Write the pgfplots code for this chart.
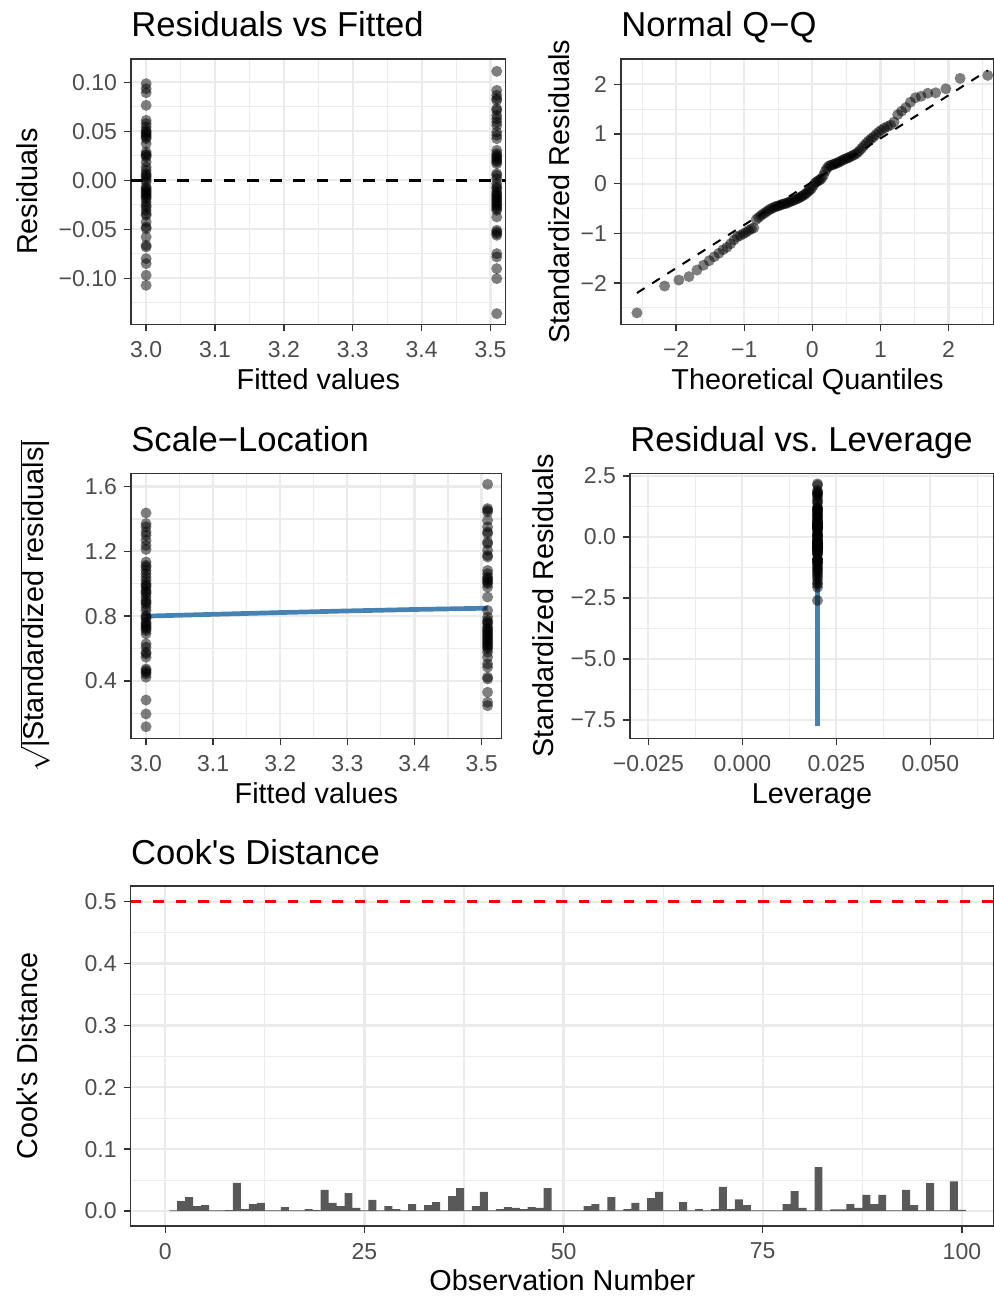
\documentclass[border=0pt]{standalone}
\usepackage{pgfplots}
\pgfplotsset{compat=1.18}
\usepackage{fontspec}
\setmainfont{Liberation Sans}
\definecolor{gray20}{HTML}{333333}
\definecolor{gray30}{HTML}{4D4D4D}
\definecolor{gray92}{HTML}{EBEBEB}
\definecolor{gray35}{HTML}{595959}
\definecolor{steelblue}{HTML}{4682B4}
\newcommand{\titlefont}{\fontsize{17.3}{20}\selectfont}
\newcommand{\labfont}{\fontsize{14.4}{17}\selectfont}
\newcommand{\tickfont}{\fontsize{11.5}{13}\selectfont}
\pgfplotsset{ggbw/.style={
  scale only axis, anchor=south west,
  axis line style={gray20, line width=0.7pt},
  tick align=outside, tick pos=left,
  major tick length=3.5pt, minor tick length=0pt,
  tick style={gray20, line width=0.7pt},
  grid=both,
  major grid style={gray92, line width=1.1pt},
  minor grid style={gray92, line width=0.55pt},
  ticklabel style={font=\tickfont, text=gray30},
  xticklabel style={yshift=-1.5pt},
  scaled ticks=false,
  every axis title/.style={anchor=base west, font=\titlefont, inner sep=0pt, at={([yshift=11pt]axis description cs:0,1)}},
  every axis x label/.style={anchor=base, font=\labfont, inner sep=0pt, at={([yshift=-32.5pt]axis description cs:0.5,0)}},
  every axis y label/.style={rotate=90, anchor=base, font=\labfont, inner sep=0pt},
},
pts/.style={only marks, mark=*, mark size=2.75pt, draw opacity=0, fill=black, fill opacity=0.5,
  mark options={draw opacity=0, draw=none, fill=black, fill opacity=0.5}}}
\begin{document}
\begin{tikzpicture}
\useasboundingbox (0,0) rectangle (497pt,648pt);
% ---------- Residuals vs Fitted
\begin{axis}[ggbw, at={(65.5pt,485.85pt)}, width=187.35pt, height=132.65pt,
 xmin=2.978, xmax=3.522, ymin=-0.1469, ymax=0.1238,
 xtick={3.0,3.1,3.2,3.3,3.4,3.5}, xticklabels={3.0,3.1,3.2,3.3,3.4,3.5},
 minor xtick={3.05,3.15,3.25,3.35,3.45},
 ytick={-0.1,-0.05,0,0.05,0.1}, yticklabels={−0.10,−0.05,0.00,0.05,0.10},
 minor ytick={-0.125,-0.075,-0.025,0.025,0.075},
 title={Residuals vs Fitted}, xlabel={Fitted values}, ylabel={Residuals},
 ylabel style={at={([xshift=-46.5pt]axis description cs:0,0.5)}}]
\addplot[pts] coordinates {
(3.0,0.0986)(3.0,0.0935)(3.0,0.0894)(3.0,0.0765)(3.0,0.0612)(3.0,0.0578)(3.0,0.0544)(3.0,0.0510)(3.0,0.0493)(3.0,0.0476)
(3.0,0.0459)(3.0,0.0442)(3.0,0.0425)(3.0,0.0374)(3.0,0.0289)(3.0,0.0265)(3.0,0.0255)(3.0,0.0238)(3.0,0.0187)(3.0,0.0136)
(3.0,0.0102)(3.0,0.0068)(3.0,0.0051)(3.0,0.0034)(3.0,0.0010)(3.0,-0.0017)(3.0,-0.0068)(3.0,-0.0085)(3.0,-0.0102)(3.0,-0.0119)
(3.0,-0.0136)(3.0,-0.0153)(3.0,-0.0170)(3.0,-0.0187)(3.0,-0.0221)(3.0,-0.0255)(3.0,-0.0272)(3.0,-0.0306)(3.0,-0.0340)(3.0,-0.0357)
(3.0,-0.0425)(3.0,-0.0476)(3.0,-0.0493)(3.0,-0.0578)(3.0,-0.0663)(3.0,-0.0680)(3.0,-0.0799)(3.0,-0.0850)(3.0,-0.0969)(3.0,-0.1071)
(3.509,0.1112)(3.509,0.0918)(3.509,0.0867)(3.509,0.0833)(3.509,0.0816)(3.509,0.0731)(3.509,0.0714)(3.509,0.0663)(3.509,0.0629)(3.509,0.0595)
(3.509,0.0561)(3.509,0.0493)(3.509,0.0459)(3.509,0.0425)(3.509,0.0306)(3.509,0.0272)(3.509,0.0255)(3.509,0.0238)(3.509,0.0221)(3.509,0.0204)
(3.509,0.0187)(3.509,0.0170)(3.509,0.0068)(3.509,0.0051)(3.509,0.0017)(3.509,-0.0034)(3.509,-0.0068)(3.509,-0.0085)(3.509,-0.0119)(3.509,-0.0136)
(3.509,-0.0153)(3.509,-0.0170)(3.509,-0.0187)(3.509,-0.0204)(3.509,-0.0221)(3.509,-0.0238)(3.509,-0.0255)(3.509,-0.0272)(3.509,-0.0289)(3.509,-0.0306)
(3.509,-0.0374)(3.509,-0.0510)(3.509,-0.0527)(3.509,-0.0544)(3.509,-0.0561)(3.509,-0.0748)(3.509,-0.0782)(3.509,-0.0901)(3.509,-0.1003)(3.509,-0.1360)};
\addplot[black, line width=1.3pt, dash pattern=on 5.8pt off 5.8pt] coordinates {(2.978,0) (3.522,0)};
\end{axis}
% ---------- Normal Q-Q
\begin{axis}[ggbw, at={(310.5pt,485.85pt)}, width=186.5pt, height=132.65pt,
 xmin=-2.81, xmax=2.668, ymin=-2.83, ymax=2.51,
 xtick={-2,-1,0,1,2}, xticklabels={−2,−1,0,1,2},
 minor xtick={-2.5,-1.5,-0.5,0.5,1.5,2.5},
 ytick={-2,-1,0,1,2}, yticklabels={−2,−1,0,1,2},
 minor ytick={-2.5,-1.5,-0.5,0.5,1.5,2.5},
 title={Normal Q−Q}, xlabel={Theoretical Quantiles}, ylabel={Standardized Residuals},
 ylabel style={at={([xshift=-26pt]axis description cs:0,0.5)}}]
\addplot[pts] coordinates {
(-2.576,-2.60)(-2.170,-2.06)(-1.960,-1.94)(-1.812,-1.87)(-1.695,-1.74)(-1.598,-1.64)(-1.514,-1.55)(-1.440,-1.47)(-1.372,-1.40)(-1.311,-1.33)
(-1.254,-1.28)(-1.200,-1.21)(-1.150,-1.13)(-1.103,-1.07)(-1.058,-1.04)(-1.015,-1.01)(-0.974,-0.98)(-0.935,-0.94)(-0.896,-0.91)(-0.860,-0.89)
(-0.824,-0.72)(-0.789,-0.68)(-0.755,-0.64)(-0.723,-0.61)(-0.690,-0.58)(-0.659,-0.55)(-0.628,-0.52)(-0.598,-0.50)(-0.568,-0.48)(-0.539,-0.46)
(-0.510,-0.45)(-0.482,-0.44)(-0.454,-0.42)(-0.426,-0.41)(-0.399,-0.40)(-0.372,-0.39)(-0.345,-0.37)(-0.319,-0.36)(-0.292,-0.34)(-0.266,-0.33)
(-0.240,-0.31)(-0.215,-0.30)(-0.189,-0.28)(-0.164,-0.26)(-0.138,-0.24)(-0.113,-0.22)(-0.088,-0.19)(-0.063,-0.16)(-0.038,-0.13)(-0.013,-0.10)
(0.013,-0.04)(0.038,0.01)(0.063,0.04)(0.088,0.06)(0.113,0.08)(0.138,0.11)(0.164,0.17)(0.189,0.25)(0.215,0.31)(0.240,0.35)
(0.266,0.37)(0.292,0.38)(0.319,0.39)(0.345,0.41)(0.372,0.42)(0.399,0.44)(0.426,0.46)(0.454,0.48)(0.482,0.50)(0.510,0.51)
(0.539,0.53)(0.568,0.55)(0.598,0.57)(0.628,0.59)(0.659,0.62)(0.690,0.66)(0.723,0.71)(0.755,0.76)(0.789,0.81)(0.824,0.86)
(0.860,0.90)(0.896,0.94)(0.935,0.99)(0.974,1.04)(1.015,1.08)(1.058,1.12)(1.103,1.15)(1.150,1.18)(1.200,1.24)(1.254,1.39)
(1.311,1.46)(1.372,1.53)(1.440,1.64)(1.514,1.73)(1.598,1.76)(1.695,1.82)(1.812,1.83)(1.960,1.91)(2.170,2.12)(2.576,2.18)};
\addplot[black, line width=1pt, dash pattern=on 4.5pt off 4.5pt] coordinates {(-2.576,-2.20) (2.576,2.28)};
\end{axis}
% ---------- Scale-Location
\begin{axis}[ggbw, at={(65.5pt,278.85pt)}, width=185.35pt, height=132.5pt,
 xmin=2.9776, xmax=3.530, ymin=0.0456, ymax=1.682,
 xtick={3.0,3.1,3.2,3.3,3.4,3.5}, xticklabels={3.0,3.1,3.2,3.3,3.4,3.5},
 minor xtick={3.05,3.15,3.25,3.35,3.45},
 ytick={0.4,0.8,1.2,1.6}, yticklabels={0.4,0.8,1.2,1.6},
 minor ytick={0.2,0.6,1.0,1.4},
 title={Scale−Location}, xlabel={Fitted values}, ylabel={$\sqrt{\mbox{|Standardized residuals|}}$},
 ylabel style={at={([xshift=-43.5pt]axis description cs:0,0.5)}}]
\addplot[pts] coordinates {
(3.0,1.437)(3.0,1.371)(3.0,1.351)(3.0,1.320)(3.0,1.299)(3.0,1.268)(3.0,1.237)(3.0,1.212)(3.0,1.134)(3.0,1.113)
(3.0,1.082)(3.0,1.062)(3.0,1.041)(3.0,1.021)(3.0,1.000)(3.0,0.979)(3.0,0.959)(3.0,0.938)(3.0,0.918)(3.0,0.897)
(3.0,0.876)(3.0,0.856)(3.0,0.835)(3.0,0.804)(3.0,0.784)(3.0,0.763)(3.0,0.742)(3.0,0.722)(3.0,0.711)(3.0,0.691)
(3.0,0.629)(3.0,0.608)(3.0,0.577)(3.0,0.567)(3.0,0.546)(3.0,0.474)(3.0,0.464)(3.0,0.454)(3.0,0.443)(3.0,0.423)
(3.0,0.282)(3.0,0.196)(3.0,0.117)(3.0,1.103)(3.0,0.990)(3.0,0.948)(3.0,0.887)(3.0,0.794)(3.0,0.753)(3.0,0.732)
(3.509,1.614)(3.509,1.464)(3.509,1.443)(3.509,1.392)(3.509,1.351)(3.509,1.320)(3.509,1.309)(3.509,1.258)(3.509,1.206)(3.509,1.175)
(3.509,1.165)(3.509,1.082)(3.509,1.062)(3.509,1.041)(3.509,1.021)(3.509,1.000)(3.509,0.979)(3.509,0.918)(3.509,0.835)(3.509,0.794)
(3.509,0.773)(3.509,0.753)(3.509,0.732)(3.509,0.711)(3.509,0.691)(3.509,0.670)(3.509,0.660)(3.509,0.649)(3.509,0.639)(3.509,0.629)
(3.509,0.619)(3.509,0.608)(3.509,0.598)(3.509,0.577)(3.509,0.546)(3.509,0.505)(3.509,0.485)(3.509,0.423)(3.509,0.412)(3.509,0.330)
(3.509,0.268)(3.509,0.247)(3.509,1.454)(3.509,1.247)(3.509,1.031)(3.509,1.010)(3.509,0.763)(3.509,0.722)(3.509,0.701)(3.509,0.680)};
\addplot[steelblue, line width=2.35pt] coordinates {(3.0,0.800)(3.1,0.811)(3.2,0.822)(3.3,0.832)(3.4,0.841)(3.509,0.849)};
\end{axis}
% ---------- Residual vs Leverage
\begin{axis}[ggbw, at={(315pt,278.85pt)}, width=182pt, height=132.5pt,
 xmin=-0.02987, xmax=0.06694, ymin=-8.25, ymax=2.611,
 xtick={-0.025,0,0.025,0.05}, xticklabels={−0.025,0.000,0.025,0.050},
 minor xtick={-0.0125,0.0125,0.0375,0.0625},
 ytick={-7.5,-5,-2.5,0,2.5}, yticklabels={−7.5,−5.0,−2.5,0.0,2.5},
 minor ytick={-6.25,-3.75,-1.25,1.25},
 title={Residual vs.\ Leverage}, xlabel={Leverage}, ylabel={Standardized Residuals},
 ylabel style={at={([xshift=-38.5pt]axis description cs:0,0.5)}}]
\addplot[pts] coordinates {
(0.02,-2.60)(0.02,-2.06)(0.02,-1.94)(0.02,-1.87)(0.02,-1.74)(0.02,-1.64)(0.02,-1.55)(0.02,-1.47)(0.02,-1.40)(0.02,-1.33)
(0.02,-1.28)(0.02,-1.21)(0.02,-1.13)(0.02,-1.07)(0.02,-1.04)(0.02,-1.01)(0.02,-0.98)(0.02,-0.94)(0.02,-0.91)(0.02,-0.89)
(0.02,-0.72)(0.02,-0.68)(0.02,-0.64)(0.02,-0.61)(0.02,-0.58)(0.02,-0.55)(0.02,-0.52)(0.02,-0.50)(0.02,-0.48)(0.02,-0.46)
(0.02,-0.45)(0.02,-0.44)(0.02,-0.42)(0.02,-0.41)(0.02,-0.40)(0.02,-0.39)(0.02,-0.37)(0.02,-0.36)(0.02,-0.34)(0.02,-0.33)
(0.02,-0.31)(0.02,-0.30)(0.02,-0.28)(0.02,-0.26)(0.02,-0.24)(0.02,-0.22)(0.02,-0.19)(0.02,-0.16)(0.02,-0.13)(0.02,-0.10)
(0.02,-0.04)(0.02,0.01)(0.02,0.04)(0.02,0.06)(0.02,0.08)(0.02,0.11)(0.02,0.17)(0.02,0.25)(0.02,0.31)(0.02,0.35)
(0.02,0.37)(0.02,0.38)(0.02,0.39)(0.02,0.41)(0.02,0.42)(0.02,0.44)(0.02,0.46)(0.02,0.48)(0.02,0.50)(0.02,0.51)
(0.02,0.53)(0.02,0.55)(0.02,0.57)(0.02,0.59)(0.02,0.62)(0.02,0.66)(0.02,0.71)(0.02,0.76)(0.02,0.81)(0.02,0.86)
(0.02,0.90)(0.02,0.94)(0.02,0.99)(0.02,1.04)(0.02,1.08)(0.02,1.12)(0.02,1.15)(0.02,1.18)(0.02,1.24)(0.02,1.39)
(0.02,1.46)(0.02,1.53)(0.02,1.64)(0.02,1.73)(0.02,1.76)(0.02,1.82)(0.02,1.83)(0.02,1.91)(0.02,2.12)(0.02,2.18)};
\addplot[steelblue, line width=2.35pt] coordinates {(0.02,1.23) (0.02,-7.76)};
\end{axis}
% ---------- Cook's Distance
\begin{axis}[ggbw, at={(65.35pt,35pt)}, width=431.65pt, height=170pt,
 xmin=-4.34, xmax=104.03, ymin=-0.0242, ymax=0.5254,
 xtick={0,25,50,75,100}, xticklabels={0,25,50,75,100},
 minor xtick={12.5,37.5,62.5,87.5},
 ytick={0,0.1,0.2,0.3,0.4,0.5}, yticklabels={0.0,0.1,0.2,0.3,0.4,0.5},
 minor ytick={0.05,0.15,0.25,0.35,0.45},
 title={Cook\textquotesingle s Distance}, xlabel={Observation Number}, ylabel={Cook\textquotesingle s Distance},
 ylabel style={at={([xshift=-46.5pt]axis description cs:0,0.5)}}]
\addplot[ybar, bar width=1, bar shift=0pt, fill=gray35, draw=none] coordinates {
(1,0.001)(2,0.016)(3,0.0226)(4,0.008)(5,0.0097)(6,0.001)(7,0.001)(8,0.0016)(9,0.0457)(10,0.003)
(11,0.011)(12,0.013)(13,0.001)(14,0.001)(15,0.0065)(16,0.001)(17,0.001)(18,0.003)(19,0.0015)(20,0.034)
(21,0.013)(22,0.008)(23,0.029)(24,0.005)(25,0.001)(26,0.018)(27,0.001)(28,0.008)(29,0.003)(30,0.001)
(31,0.011)(32,0.001)(33,0.0097)(34,0.0145)(35,0.001)(36,0.024)(37,0.037)(38,0.001)(39,0.008)(40,0.031)
(41,0.001)(42,0.003)(43,0.0065)(44,0.005)(45,0.003)(46,0.0065)(47,0.005)(48,0.037)(49,0.001)(50,0.001)
(51,0.001)(52,0.001)(53,0.008)(54,0.011)(55,0.001)(56,0.0226)(57,0.001)(58,0.003)(59,0.013)(60,0.001)
(61,0.021)(62,0.031)(63,0.001)(64,0.001)(65,0.0145)(66,0.001)(67,0.003)(68,0.001)(69,0.003)(70,0.039)
(71,0.003)(72,0.019)(73,0.0097)(74,0.001)(75,0.001)(76,0.001)(77,0.001)(78,0.011)(79,0.032)(80,0.005)
(81,0.001)(82,0.071)(83,0.001)(84,0.0027)(85,0.0027)(86,0.011)(87,0.005)(88,0.026)(89,0.011)(90,0.026)
(91,0.001)(92,0.001)(93,0.034)(94,0.0097)(95,0.001)(96,0.045)(97,0.001)(98,0.001)(99,0.048)(100,0.002)};
\addplot[red, line width=1.3pt, dash pattern=on 5.3pt off 5.9pt] coordinates {(-4.34,0.5) (104.03,0.5)};
\end{axis}
\end{tikzpicture}
\end{document}
